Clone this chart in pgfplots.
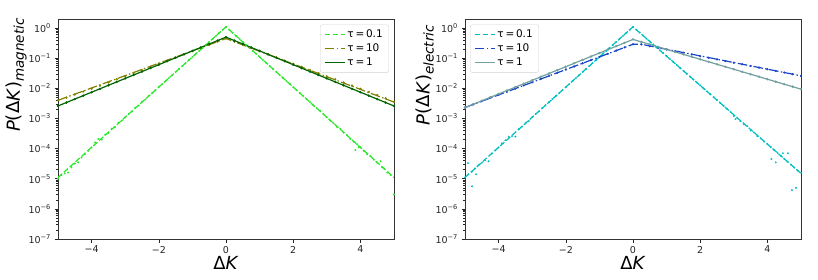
\documentclass[border=0pt]{standalone}
\usepackage{fontspec}
\setmainfont{DejaVu Sans}
\usepackage{pgfplots}
\pgfplotsset{compat=1.18}
\definecolor{cLime}{RGB}{40,232,40}
\definecolor{cOlive}{RGB}{128,128,0}
\definecolor{cDGreen}{RGB}{0,100,0}
\definecolor{cCyan}{RGB}{0,191,191}
\definecolor{cBlue}{RGB}{25,70,200}
\definecolor{cGrayTeal}{RGB}{115,160,160}
\newcommand{\sub}[1]{\raisebox{-4pt}{\fontsize{13.5}{14}\selectfont\textit{#1}}}
\pgfplotsset{
  pstyle/.style={
    scale only axis, width=336pt, height=220pt,
    xmin=-5, xmax=5, ymin=1e-7, ymax=2,
    xtick={-4,-2,0,2,4}, xticklabels={−4,−2,0,2,4},
    ytick={1e-7,1e-6,1e-5,1e-4,1e-3,1e-2,1e-1,1},
    yticklabels={10\textsuperscript{−7},10\textsuperscript{−6},10\textsuperscript{−5},10\textsuperscript{−4},10\textsuperscript{−3},10\textsuperscript{−2},10\textsuperscript{−1},10\textsuperscript{0}},
    tick pos=left, tick align=outside,
    major tick length=3.5pt, minor tick length=2pt,
    every tick/.style={black!85, line width=0.6pt},
    axis line style={black!80, line width=0.8pt},
    ticklabel style={font=\fontsize{9.5}{11}\selectfont, text=black!85},
    xlabel={Δ\textit{K}},
    label style={font=\fontsize{18}{20}\selectfont},
    xlabel style={yshift=4pt},
    ylabel style={at={(ticklabel cs:0.745)}, yshift=-5pt},
    legend cell align=left,
    legend style={font=\fontsize{10.5}{12}\selectfont, draw=black!18, rounded corners=2pt, fill=white, fill opacity=0.85, text opacity=1, row sep=1pt, inner xsep=4pt, inner ysep=3pt},
  },
}
\begin{document}
\begin{tikzpicture}
% ---------------- magnetic ----------------
\begin{axis}[ymode=log, pstyle, at={(58pt,40pt)}, anchor=south west,
  legend image code/.code={\draw[#1] (0cm,0cm) -- (20pt,0cm);},
  ylabel={\textit{P}(Δ\textit{K})\sub{magnetic}},
  legend style={at={(0.985,0.975)}, anchor=north east}]
\addplot[cLime, line width=1.2pt, dash pattern=on 5.5pt off 2.4pt] coordinates {(-5,1.1e-5) (0,1.1) (5,1.1e-5)};
\addlegendentry{τ\,=\,0.1}
\addplot[cOlive, line width=1.2pt, dash pattern=on 9.6pt off 2.4pt on 1.5pt off 2.4pt] coordinates {(-5,4.0e-3) (0,0.45) (5,3.5e-3)};
\addlegendentry{τ\,=\,10}
\addplot[cDGreen, line width=1.2pt] coordinates {(-5,2.6e-3) (0,0.5) (5,2.6e-3)};
\addlegendentry{τ\,=\,1}
\addplot[only marks, mark=*, mark size=0.75pt, cLime, forget plot] coordinates {
(-5.0,1.0e-5) (-4.9,1.3e-5) (-4.8,1.5e-5) (-4.7,1.6e-5) (-4.6,2.4e-5) (-4.5,3.2e-5) (-4.4,3.5e-5) (-4.3,5.0e-5) (-4.2,6.5e-5) (-4.1,8.5e-5)
(-4.0,1.1e-4) (-3.9,1.6e-4) (-3.8,2.1e-4) (-3.7,2.0e-4) (-3.6,2.9e-4) (-3.5,3.3e-4) (-3.4,4.6e-4) (-3.3,5.2e-4) (-3.2,7.3e-4) (-3.1,8.5e-4)
(-3.0,1.1e-3) (-2.9,1.4e-3) (-2.8,1.7e-3) (-2.7,2.3e-3) (-2.6,2.7e-3) (-2.5,3.6e-3) (-2.4,4.3e-3) (-2.3,5.6e-3) (-2.2,6.9e-3) (-2.1,8.7e-3)
(-2.0,1.1e-2) (-1.9,1.38e-2) (-1.8,1.74e-2) (-1.7,2.2e-2) (-1.6,2.76e-2) (-1.5,3.48e-2) (-1.4,4.38e-2) (-1.3,5.51e-2) (-1.2,6.94e-2) (-1.1,8.73e-2)
(-1.0,0.11) (-0.9,0.139) (-0.8,0.174) (-0.7,0.22) (-0.6,0.276) (-0.5,0.348) (-0.4,0.438) (-0.3,0.551) (-0.2,0.694) (-0.1,0.873) (0,1.1)
(0.1,0.873) (0.2,0.694) (0.3,0.551) (0.4,0.438) (0.5,0.348) (0.6,0.276) (0.7,0.22) (0.8,0.174) (0.9,0.139) (1.0,0.11)
(1.1,0.0873) (1.2,0.0694) (1.3,0.0551) (1.4,0.0438) (1.5,0.0348) (1.6,0.0276) (1.7,0.022) (1.8,0.0174) (1.9,0.0139) (2.0,0.011)
(2.1,8.7e-3) (2.2,6.9e-3) (2.3,5.5e-3) (2.4,4.4e-3) (2.5,3.5e-3) (2.6,2.7e-3) (2.7,2.2e-3) (2.8,1.8e-3) (2.9,1.4e-3) (3.0,1.1e-3)
(3.1,8.5e-4) (3.2,7.0e-4) (3.3,5.3e-4) (3.4,4.5e-4) (3.5,3.4e-4) (3.6,2.8e-4) (3.7,2.1e-4) (3.8,1.7e-4) (3.85,9e-5) (3.9,1.4e-4) (3.95,1.1e-4)
(4.0,1.1e-4) (4.1,8.5e-5) (4.2,6.5e-5) (4.3,5.6e-5) (4.4,4.3e-5) (4.5,3.4e-5) (4.6,3.8e-5) (4.65,2.4e-5) (4.7,2.2e-5) (4.8,1.6e-5) (4.9,1.3e-5) (5.0,3e-6)
};
\addplot[only marks, mark=*, mark size=0.9pt, cOlive, forget plot] coordinates {
(-5.0,4.0e-3) (-4.75,4.9e-3) (-4.5,6.2e-3) (-4.25,7.8e-3) (-4.0,9.7e-3) (-3.75,0.0123) (-3.5,0.0156) (-3.25,0.0199) (-3.0,0.0252) (-2.75,0.0321)
(-2.5,0.0408) (-2.25,0.0519) (-2.0,0.066) (-1.75,0.0838) (-1.5,0.1066) (-1.25,0.136) (-1.0,0.172) (-0.75,0.219) (-0.5,0.278) (-0.25,0.354) (0,0.45)
(0.25,0.354) (0.5,0.278) (0.75,0.219) (1.0,0.172) (1.25,0.136) (1.5,0.1066) (1.75,0.0838) (2.0,0.066) (2.25,0.0519) (2.5,0.0408)
(2.75,0.0321) (3.0,0.0252) (3.25,0.0199) (3.5,0.0156) (3.75,0.0123) (4.0,9.67e-3) (4.25,7.6e-3) (4.5,5.98e-3) (4.75,4.7e-3) (5.0,3.6e-3)
};
\addplot[only marks, mark=*, mark size=1.0pt, cDGreen, forget plot] coordinates {
(-5.0,2.6e-3) (-4.75,3.37e-3) (-4.5,4.39e-3) (-4.25,5.71e-3) (-4.0,7.43e-3) (-3.75,9.66e-3) (-3.5,0.01256) (-3.25,0.0164) (-3.0,0.0213) (-2.75,0.0277)
(-2.5,0.036) (-2.25,0.0469) (-2.0,0.061) (-1.75,0.0793) (-1.5,0.103) (-1.25,0.134) (-1.0,0.175) (-0.75,0.227) (-0.5,0.295) (-0.25,0.385) (0,0.5)
(0.25,0.385) (0.5,0.295) (0.75,0.227) (1.0,0.175) (1.25,0.134) (1.5,0.103) (1.75,0.0793) (2.0,0.061) (2.25,0.0469) (2.5,0.036)
(2.75,0.0277) (3.0,0.0213) (3.25,0.0164) (3.5,0.01256) (3.75,9.66e-3) (4.0,7.43e-3) (4.25,5.71e-3) (4.5,4.39e-3) (4.75,3.37e-3) (5.0,2.6e-3)
};
\end{axis}
% ---------------- electric ----------------
\begin{axis}[ymode=log, pstyle, at={(465pt,40pt)}, anchor=south west,
  legend image code/.code={\draw[#1] (0cm,0cm) -- (20pt,0cm);},
  ylabel={\textit{P}(Δ\textit{K})\sub{electric}},
  legend style={at={(0.015,0.975)}, anchor=north west}]
\addplot[cCyan, line width=1.2pt, dash pattern=on 5.5pt off 2.4pt] coordinates {(-5,1.1e-5) (0,1.1) (5,1.5e-5)};
\addlegendentry{τ\,=\,0.1}
\addplot[cBlue, line width=1.2pt, dash pattern=on 9.6pt off 2.4pt on 1.5pt off 2.4pt] coordinates {(-5,2.3e-3) (0,0.29) (0.25,0.29) (5,0.026)};
\addlegendentry{τ\,=\,10}
\addplot[cGrayTeal, line width=1.2pt] coordinates {(-5,2.3e-3) (0,0.42) (5,9.4e-3)};
\addlegendentry{τ\,=\,1}
\addplot[only marks, mark=*, mark size=0.75pt, cCyan, forget plot] coordinates {
(-5.0,1.1e-5) (-4.91,3.3e-5) (-4.9,1.4e-5) (-4.79,5.6e-6) (-4.8,1.7e-5) (-4.67,1.4e-5) (-4.7,2.2e-5) (-4.6,2.8e-5) (-4.5,3.4e-5) (-4.4,4.1e-5) (-4.3,3.8e-5) (-4.2,6.9e-5) (-4.1,8.7e-5)
(-4.0,1.1e-4) (-3.9,1.5e-4) (-3.8,1.9e-4) (-3.7,2.5e-4) (-3.6,2.6e-4) (-3.5,2.5e-4) (-3.4,4.4e-4) (-3.3,5.4e-4) (-3.2,6.9e-4) (-3.1,8.2e-4)
(-3.0,1.1e-3) (-2.9,1.4e-3) (-2.8,1.7e-3) (-2.7,2.2e-3) (-2.6,2.8e-3) (-2.5,3.5e-3) (-2.4,4.4e-3) (-2.3,5.5e-3) (-2.2,6.9e-3) (-2.1,8.7e-3)
(-2.0,1.1e-2) (-1.9,1.38e-2) (-1.8,1.74e-2) (-1.7,2.2e-2) (-1.6,2.76e-2) (-1.5,3.48e-2) (-1.4,4.38e-2) (-1.3,5.51e-2) (-1.2,6.94e-2) (-1.1,8.73e-2)
(-1.0,0.11) (-0.9,0.139) (-0.8,0.174) (-0.7,0.22) (-0.6,0.276) (-0.5,0.348) (-0.4,0.438) (-0.3,0.551) (-0.2,0.694) (-0.1,0.873) (0,1.1)
(0.1,0.879) (0.2,0.703) (0.3,0.562) (0.4,0.449) (0.5,0.359) (0.6,0.287) (0.7,0.229) (0.8,0.183) (0.9,0.1465) (1.0,0.117)
(1.1,0.0935) (1.2,0.0748) (1.3,0.0598) (1.4,0.0478) (1.5,0.0382) (1.6,0.0305) (1.7,0.0244) (1.8,0.0195) (1.9,0.0156) (2.0,0.01245)
(2.1,9.95e-3) (2.2,7.96e-3) (2.3,6.36e-3) (2.4,5.09e-3) (2.5,4.06e-3) (2.6,3.25e-3) (2.7,2.6e-3) (2.8,2.07e-3) (2.9,1.66e-3) (3.0,1.2e-3)
(3.05,9.5e-4) (3.1,1.06e-3) (3.2,8.1e-4) (3.3,6.4e-4) (3.4,5.6e-4) (3.5,4.0e-4) (3.6,3.46e-4) (3.7,2.6e-4) (3.8,2.2e-4) (3.9,1.7e-4)
(4.0,1.41e-4) (4.1,1.13e-4) (4.12,4.5e-5) (4.2,9.0e-5) (4.25,3.5e-5) (4.3,7.2e-5) (4.4,5.77e-5) (4.46,7e-5) (4.5,4.6e-5) (4.6,3.68e-5) (4.61,7e-5) (4.7,2.95e-5) (4.73,4.2e-6)
(4.8,2.34e-5) (4.85,5e-6) (4.9,1.88e-5) (5.0,1.6e-5)
};
\addplot[only marks, mark=*, mark size=0.9pt, cBlue, forget plot] coordinates {
(-5.0,2.3e-3) (-4.75,2.93e-3) (-4.5,3.74e-3) (-4.25,4.76e-3) (-4.0,6.06e-3) (-3.75,7.72e-3) (-3.5,9.83e-3) (-3.25,0.01252) (-3.0,0.01594) (-2.75,0.0203)
(-2.5,0.0258) (-2.25,0.0329) (-2.0,0.0419) (-1.75,0.0534) (-1.5,0.068) (-1.25,0.0866) (-1.0,0.1102) (-0.75,0.1404) (-0.5,0.179) (-0.25,0.228) (0,0.29)
(0.25,0.287) (0.5,0.25) (0.75,0.22) (1.0,0.194) (1.25,0.171) (1.5,0.151) (1.75,0.133) (2.0,0.117) (2.25,0.103) (2.5,0.0914)
(2.75,0.0806) (3.0,0.0711) (3.25,0.0627) (3.5,0.0553) (3.75,0.0488) (4.0,0.043) (4.25,0.0379) (4.5,0.0335) (4.75,0.0295) (5.0,0.026)
};
\addplot[only marks, mark=*, mark size=1.0pt, cGrayTeal, forget plot] coordinates {
(-5.0,2.31e-3) (-4.75,3.0e-3) (-4.5,3.88e-3) (-4.25,5.04e-3) (-4.0,6.53e-3) (-3.75,8.48e-3) (-3.5,0.011) (-3.25,0.0143) (-3.0,0.0185) (-2.75,0.024)
(-2.5,0.0311) (-2.25,0.0404) (-2.0,0.0524) (-1.75,0.068) (-1.5,0.088) (-1.25,0.114) (-1.0,0.148) (-0.75,0.192) (-0.5,0.25) (-0.25,0.324) (0,0.42)
(0.25,0.347) (0.5,0.287) (0.75,0.238) (1.0,0.197) (1.25,0.1625) (1.5,0.134) (1.75,0.111) (2.0,0.0919) (2.25,0.076) (2.5,0.0628)
(2.75,0.052) (3.0,0.043) (3.25,0.0355) (3.5,0.0294) (3.75,0.0243) (4.0,0.0201) (4.25,0.0166) (4.5,0.0137) (4.75,0.0114) (5.0,0.0094)
};
\end{axis}
\pgfresetboundingbox
\useasboundingbox (0,0) rectangle (818pt,279pt);
\end{tikzpicture}
\end{document}
